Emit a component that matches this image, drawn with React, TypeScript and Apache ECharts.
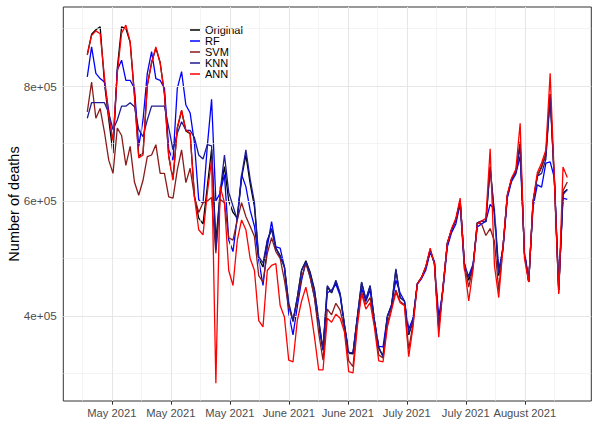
import React, { useEffect, useRef } from "react";
import * as echarts from "echarts";

// Day index 0 = first observation (late April 2021), daily data to mid August 2021
const seriesNames = ["Original", "RF", "SVM", "KNN", "ANN"];
const seriesColors = ["#000000", "#0000ff", "#8b1a1a", "#1c1c96", "#ff0000"];

const original = [
  855000, 890000, 898000, 903000, 806000, 742000, 683000, 831000, 903000, 900000,
  876000, 786000, 678000, 683000, 801000, 841000, 866000, 841000, 786000, 678000,
  638000, 727000, 757000, 722000, 717000, 609000, 570000, 560000, 625000, 690000,
  530000, 615000, 660000, 600000, 580000, 570000, 640000, 680000, 630000, 590000,
  500000, 485000, 530000, 552000, 518000, 505000, 485000, 420000, 390000, 432000,
  480000, 496000, 476000, 446000, 392000, 340000, 450000, 440000, 460000, 438000,
  384000, 335000, 334000, 397000, 458000, 428000, 452000, 391000, 344000, 330000,
  399000, 418000, 480000, 432000, 426000, 367000, 391000, 456000, 467000, 485000,
  515000, 491000, 379000, 450000, 526000, 550000, 567000, 600000, 491000, 462000,
  485000, 562000, 565000, 564000, 660000, 575000, 470000, 520000, 609000, 638000,
  650000, 703000, 509000, 459000, 597000, 643000, 660000, 680000, 786000, 633000,
  445000, 614000, 620000,
];
const rf = [
  816000, 868000, 822000, 813000, 807000, 757000, 698000, 828000, 845000, 810000,
  810000, 796000, 695000, 741000, 822000, 860000, 813000, 810000, 796000, 689000,
  671000, 796000, 825000, 767000, 753000, 701000, 602000, 596000, 695000, 777000,
  600000, 614000, 646000, 532000, 512000, 572000, 646000, 625000, 584000, 556000,
  497000, 453000, 520000, 564000, 520000, 518000, 485000, 404000, 367000, 416000,
  462000, 494000, 467000, 433000, 381000, 342000, 440000, 445000, 455000, 435000,
  382000, 336000, 336000, 396000, 448000, 425000, 445000, 392000, 347000, 346000,
  398000, 420000, 462000, 440000, 426000, 377000, 396000, 455000, 465000, 480000,
  510000, 495000, 398000, 445000, 520000, 545000, 560000, 595000, 480000, 470000,
  490000, 555000, 560000, 565000, 594000, 585000, 480000, 515000, 605000, 634000,
  647000, 678000, 515000, 462000, 589000, 628000, 624000, 666000, 668000, 640000,
  450000, 605000, 603000,
];
const svm = [
  755000, 807000, 744000, 761000, 720000, 671000, 648000, 727000, 714000, 662000,
  695000, 633000, 610000, 636000, 677000, 680000, 698000, 648000, 648000, 607000,
  605000, 654000, 689000, 632000, 657000, 607000, 580000, 597000, 600000, 606000,
  509000, 603000, 597000, 536000, 532000, 567000, 597000, 573000, 556000, 538000,
  470000, 459000, 509000, 536000, 512000, 500000, 462000, 415000, 392000, 426000,
  467000, 491000, 467000, 432000, 370000, 323000, 412000, 402000, 422000, 410000,
  377000, 322000, 312000, 390000, 441000, 420000, 432000, 386000, 332000, 327000,
  386000, 415000, 445000, 425000, 420000, 342000, 386000, 456000, 467000, 485000,
  515000, 491000, 376000, 450000, 526000, 550000, 567000, 600000, 491000, 450000,
  485000, 562000, 560000, 540000, 552000, 530000, 445000, 520000, 609000, 638000,
  650000, 698000, 509000, 459000, 597000, 643000, 658000, 683000, 786000, 633000,
  440000, 618000, 633000,
];
const knn = [
  744000, 771000, 771000, 771000, 771000, 753000, 724000, 741000, 765000, 765000,
  771000, 764000, 724000, 712000, 741000, 765000, 765000, 765000, 765000, 727000,
  689000, 718000, 738000, 723000, 723000, 710000, 680000, 673000, 698000, 696000,
  515000, 615000, 680000, 615000, 591000, 567000, 644000, 689000, 638000, 597000,
  503000, 492000, 532000, 550000, 518000, 503000, 485000, 423000, 392000, 432000,
  479000, 494000, 474000, 444000, 392000, 342000, 453000, 441000, 462000, 439000,
  386000, 336000, 336000, 398000, 459000, 429000, 453000, 392000, 346000, 329000,
  400000, 418000, 482000, 432000, 426000, 370000, 392000, 456000, 467000, 485000,
  515000, 491000, 381000, 450000, 526000, 550000, 567000, 600000, 491000, 467000,
  485000, 562000, 565000, 564000, 656000, 579000, 474000, 520000, 609000, 638000,
  650000, 696000, 509000, 459000, 597000, 643000, 648000, 673000, 781000, 633000,
  445000, 611000, 620000,
];
const ann = [
  854000, 888000, 896000, 891000, 816000, 747000, 705000, 822000, 892000, 906000,
  877000, 782000, 675000, 680000, 801000, 840000, 868000, 840000, 787000, 677000,
  636000, 727000, 758000, 723000, 718000, 607000, 550000, 541000, 614000, 671000,
  283000, 625000, 597000, 479000, 453000, 532000, 567000, 550000, 500000, 479000,
  392000, 381000, 479000, 488000, 491000, 418000, 398000, 323000, 320000, 392000,
  426000, 450000, 415000, 364000, 306000, 306000, 396000, 389000, 403000, 396000,
  372000, 303000, 301000, 381000, 439000, 412000, 423000, 380000, 322000, 320000,
  380000, 410000, 441000, 423000, 418000, 329000, 381000, 456000, 467000, 487000,
  518000, 491000, 363000, 450000, 526000, 552000, 570000, 605000, 485000, 426000,
  480000, 560000, 565000, 570000, 691000, 488000, 432000, 520000, 612000, 640000,
  655000, 735000, 500000, 459000, 600000, 649000, 666000, 689000, 822000, 633000,
  438000, 659000, 641000,
];
const seriesValues = [original, rf, svm, knn, ann];

// x-axis break positions (in day-index units) and their labels
const xMajorDays = [5.72, 19.49, 33.25, 47.02, 60.79, 74.55, 88.32, 102.09];
const xMajorLabels = ["May 2021", "May 2021", "May 2021", "June 2021", "June 2021", "July 2021", "July 2021", "August 2021"];
const xMinorDays = [-1.17, 12.6, 26.37, 40.14, 53.9, 67.67, 81.44, 95.2, 108.97];
const yMajor = [400000, 600000, 800000];
const yMajorLabels = ["4e+05", "6e+05", "8e+05"];
const yMinor = [300000, 500000, 700000, 900000];

const FONT = "'Liberation Sans', Arial, Helvetica, sans-serif";

export default function App() {
  const ref = useRef<HTMLDivElement>(null);
  useEffect(() => {
    if (!ref.current) return;
    const chart = echarts.init(ref.current, undefined, { renderer: "svg" });
    const gridLines: any[] = [
      ...xMinorDays.map((d) => ({ xAxis: d, lineStyle: { color: "#ececec", width: 0.6, type: "solid" } })),
      ...yMinor.map((v) => ({ yAxis: v, lineStyle: { color: "#ececec", width: 0.6, type: "solid" } })),
      ...xMajorDays.map((d) => ({ xAxis: d, lineStyle: { color: "#e6e6e6", width: 1.1, type: "solid" } })),
      ...yMajor.map((v) => ({ yAxis: v, lineStyle: { color: "#e6e6e6", width: 1.1, type: "solid" } })),
    ];
    const lineSeries = seriesNames.map((name, k) => ({
      name,
      type: "line",
      z: 3 + k,
      showSymbol: false,
      symbol: "none",
      silent: true,
      color: seriesColors[k],
      lineStyle: { color: seriesColors[k], width: 1.3 },
      data: seriesValues[k].map((v, i) => [i, v]),
    }));
    chart.setOption({
      animation: false,
      backgroundColor: "#ffffff",
      grid: {
        left: 63.3,
        right: 8.7,
        top: 7,
        bottom: 25,
        containLabel: false,
        outerBoundsMode: "none",
        show: true,
        borderColor: "#333333",
        borderWidth: 1,
        backgroundColor: "#ffffff",
      },
      legend: {
        data: seriesNames,
        orient: "vertical",
        left: 190,
        top: 24.5,
        padding: 0,
        itemGap: 0,
        itemWidth: 10,
        itemHeight: 1.5,
        icon: "rect",
        selectedMode: false,
        textStyle: { fontSize: 11, color: "#000000", fontFamily: FONT, lineHeight: 11 },
      },
      xAxis: {
        type: "value",
        min: -5.6,
        max: 117.6,
        axisLine: { show: false },
        splitLine: { show: false },
        axisTick: { show: true, length: 3.7, customValues: xMajorDays, lineStyle: { color: "#333333", width: 1 } },
        axisLabel: {
          customValues: xMajorDays,
          margin: 6.6,
          fontSize: 11.2,
          color: "#4d4d4d",
          fontFamily: FONT,
          hideOverlap: false,
          formatter: (v: number) => {
            const k = xMajorDays.findIndex((d) => Math.abs(d - v) < 0.01);
            return k >= 0 ? xMajorLabels[k] : "";
          },
        },
      },
      yAxis: {
        type: "value",
        min: 252000,
        max: 937500,
        name: "Number of deaths",
        nameLocation: "middle",
        nameGap: 42,
        nameMoveOverlap: false,
        nameTextStyle: { fontSize: 14.5, color: "#000000", fontFamily: FONT },
        axisLine: { show: false },
        splitLine: { show: false },
        axisTick: { show: true, length: 3.7, customValues: yMajor, lineStyle: { color: "#333333", width: 1 } },
        axisLabel: {
          customValues: yMajor,
          margin: 6.6,
          fontSize: 11.7,
          color: "#4d4d4d",
          fontFamily: FONT,
          formatter: (v: number) => {
            const k = yMajor.indexOf(Math.round(v));
            return k >= 0 ? yMajorLabels[k] : "";
          },
        },
      },
      series: [
        {
          name: "__grid",
          type: "line",
          z: 1,
          silent: true,
          data: [],
          markLine: {
            silent: true,
            symbol: ["none", "none"],
            label: { show: false },
            emphasis: { disabled: true },
            animation: false,
            data: gridLines,
          },
        },
        ...lineSeries,
      ],
    });
    return () => chart.dispose();
  }, []);
  return <div ref={ref} style={{ position: "absolute", left: 0, top: 0, width: 600, height: 426 }} />;
}
